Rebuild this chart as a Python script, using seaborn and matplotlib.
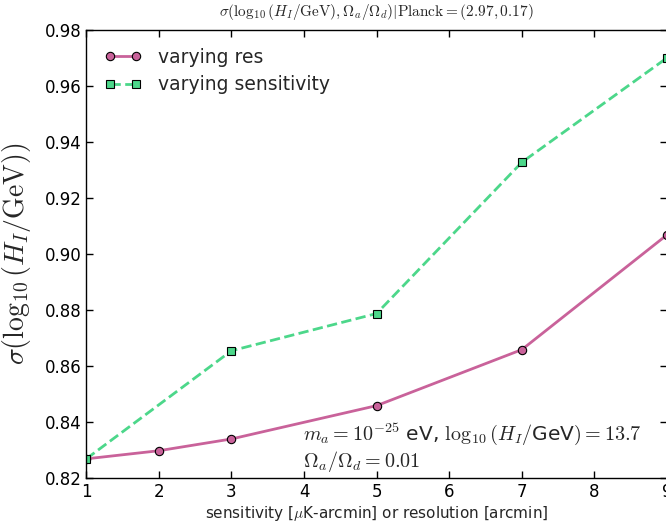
import numpy as np
import pandas as pd
import matplotlib
matplotlib.use('Agg')
import matplotlib.pyplot as plt
import seaborn as sns

# values
res_x = [1, 2, 3, 5, 7, 9]
res_sigma = [0.8268, 0.8297, 0.8339, 0.8458, 0.8658, 0.9068]
sens_x = [1, 3, 5, 7, 9]
sens_sigma = [0.8268, 0.8654, 0.8787, 0.9327, 0.9700]

res_df = pd.DataFrame({'x': res_x, 'sigma': res_sigma})
sens_df = pd.DataFrame({'x': sens_x, 'sigma': sens_sigma})

sns.set_style('ticks')
plt.rcParams['font.family'] = ['DejaVu Sans']
plt.rcParams['mathtext.fontset'] = 'cm'
plt.rcParams['xtick.direction'] = 'in'
plt.rcParams['ytick.direction'] = 'in'
plt.rcParams['xtick.top'] = True
plt.rcParams['ytick.right'] = True
plt.rcParams['xtick.major.size'] = 5
plt.rcParams['ytick.major.size'] = 5

purple = '#C9629A'
green = '#4CD78A'

fig = plt.figure(figsize=(6.66, 5.24), dpi=100)
ax = fig.add_axes([0.1295, 0.088, 0.872, 0.855])

sns.lineplot(data=res_df, x='x', y='sigma', ax=ax, color=purple, lw=2,
             marker='o', markersize=6, markeredgecolor='black', markeredgewidth=0.8,
             label='varying res')
sns.lineplot(data=sens_df, x='x', y='sigma', ax=ax, color=green, lw=2, linestyle='--',
             marker='s', markersize=6, markeredgecolor='black', markeredgewidth=0.8,
             label='varying sensitivity')

ax.set_xlim(1, 9)
ax.set_ylim(0.82, 0.98)
ax.set_xticks(range(1, 10))
ax.set_yticks(np.arange(0.82, 0.981, 0.02))
ax.set_yticklabels(['%.2f' % v for v in np.arange(0.82, 0.981, 0.02)])
ax.tick_params(labelsize=12, width=1, color='black', labelcolor='black')
for s in ax.spines.values():
    s.set_color('black')
    s.set_linewidth(1)

ax.set_xlabel(r'sensitivity [$\mu$K-arcmin] or resolution [arcmin]', fontsize=11, labelpad=2)
ax.set_ylabel(r'$\sigma(\log_{10}(H_I/\mathrm{GeV}))$', fontsize=20, labelpad=8)
ax.set_title(r'$\sigma(\log_{10}(H_I/\mathrm{GeV}),\Omega_a/\Omega_d)|\mathrm{Planck}=(2.97,0.17)$',
             fontsize=11, pad=10)

ax.text(0.374, 0.085, r'$m_a=10^{-25}$ eV, $\log_{10}(H_I/$GeV$)=13.7$', transform=ax.transAxes,
        fontsize=14.5)
ax.text(0.374, 0.025, r'$\Omega_a/\Omega_d=0.01$', transform=ax.transAxes, fontsize=14.5)

leg = ax.legend(loc='upper left', frameon=False, fontsize=13.5, handlelength=2.0,
                handletextpad=0.9, numpoints=2, borderaxespad=0.55, labelspacing=0.45)

fig.savefig('out.png', dpi=100)
